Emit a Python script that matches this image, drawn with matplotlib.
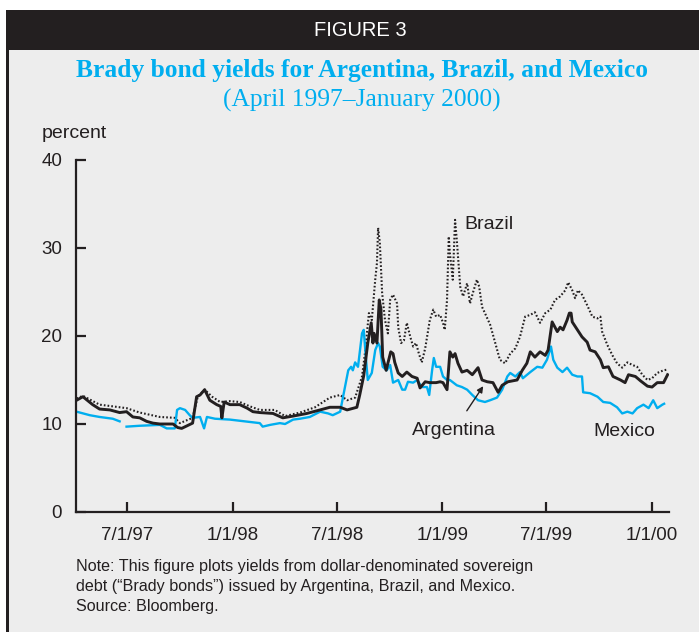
import matplotlib
matplotlib.use('Agg')
import matplotlib.pyplot as plt
from matplotlib.patches import Rectangle
import pandas as pd

# yields (percent)
arg_dates = ['1997-04-04', '1997-04-15', '1997-05-02', '1997-05-14', '1997-06-01', '1997-06-18',
             '1997-06-30', '1997-07-11', '1997-07-23', '1997-08-04', '1997-08-15', '1997-08-27',
             '1997-09-19', '1997-09-27', '1997-10-04', '1997-10-23', '1997-10-30', '1997-11-05',
             '1997-11-13', '1997-11-22', '1997-12-04', '1997-12-11', '1997-12-13', '1997-12-17',
             '1997-12-27', '1998-01-13', '1998-01-26', '1998-02-05', '1998-02-17', '1998-03-12',
             '1998-03-29', '1998-04-16', '1998-05-10', '1998-06-02', '1998-06-19', '1998-07-07',
             '1998-07-19', '1998-08-05', '1998-08-10', '1998-08-17', '1998-08-24', '1998-08-30',
             '1998-09-02', '1998-09-04', '1998-09-09', '1998-09-13', '1998-09-16', '1998-09-19',
             '1998-09-25', '1998-09-28', '1998-10-03', '1998-10-07', '1998-10-10', '1998-10-16',
             '1998-10-23', '1998-10-31', '1998-11-09', '1998-11-18', '1998-11-23', '1998-12-02',
             '1998-12-10', '1998-12-21', '1998-12-28', '1999-01-02', '1999-01-09', '1999-01-14',
             '1999-01-19', '1999-01-23', '1999-01-28', '1999-02-04', '1999-02-13', '1999-02-22',
             '1999-03-04', '1999-03-11', '1999-03-20', '1999-03-30', '1999-04-08', '1999-04-15',
             '1999-04-25', '1999-05-11', '1999-05-20', '1999-05-28', '1999-06-03', '1999-06-11',
             '1999-06-20', '1999-06-29', '1999-07-04', '1999-07-11', '1999-07-20', '1999-07-25',
             '1999-07-30', '1999-08-06', '1999-08-10', '1999-08-13', '1999-08-15', '1999-08-24',
             '1999-09-01', '1999-09-10', '1999-09-15', '1999-09-24', '1999-10-03', '1999-10-08',
             '1999-10-17', '1999-10-25', '1999-11-07', '1999-11-15', '1999-11-21', '1999-12-03',
             '1999-12-12', '1999-12-24', '2000-01-01', '2000-01-10', '2000-01-21', '2000-01-28']
arg_yield = [12.7, 13.1, 12.2, 11.7, 11.6, 11.3,
             11.4, 10.8, 10.7, 10.3, 10.1, 10.0,
             10.0, 9.6, 9.5, 10.1, 13.1, 13.3,
             13.9, 12.7, 12.2, 12.0, 10.7, 12.5,
             12.2, 12.2, 11.8, 11.4, 11.3, 11.2,
             10.7, 10.9, 11.2, 11.6, 11.9, 11.9,
             11.6, 11.9, 13.3, 15.5, 19.2, 21.5,
             19.2, 20.3, 19.2, 24.1, 23.0, 17.6,
             16.1, 16.9, 18.2, 18.0, 17.0, 15.8,
             15.4, 15.9, 15.4, 15.2, 14.1, 14.8,
             14.7, 14.7, 14.8, 14.7, 13.9, 18.2,
             17.6, 18.0, 16.9, 15.9, 16.1, 15.6,
             16.4, 15.0, 14.8, 14.7, 13.6, 14.4,
             14.8, 15.0, 16.1, 16.9, 18.2, 17.6,
             18.2, 17.8, 18.4, 21.6, 20.5, 21.0,
             20.7, 21.8, 22.6, 22.6, 21.6, 20.7,
             19.9, 19.3, 18.4, 18.2, 17.3, 16.4,
             16.5, 15.4, 15.0, 14.7, 15.6, 15.4,
             14.9, 14.3, 14.2, 14.7, 14.7, 15.6]

bra_dates = ['1997-04-04', '1997-04-15', '1997-05-14', '1997-06-30', '1997-07-23', '1997-08-27',
             '1997-09-22', '1997-10-01', '1997-10-23', '1997-11-01', '1997-11-13', '1997-11-26',
             '1997-12-10', '1997-12-27', '1998-01-13', '1998-01-31', '1998-02-17', '1998-03-15',
             '1998-04-02', '1998-04-28', '1998-05-24', '1998-06-19', '1998-07-07', '1998-07-19',
             '1998-08-02', '1998-08-14', '1998-08-19', '1998-08-26', '1998-08-31', '1998-09-06',
             '1998-09-09', '1998-09-11', '1998-09-14', '1998-09-18', '1998-09-23', '1998-09-28',
             '1998-10-02', '1998-10-07', '1998-10-14', '1998-10-16', '1998-10-21', '1998-10-26',
             '1998-10-31', '1998-11-06', '1998-11-11', '1998-11-16', '1998-11-21', '1998-11-26',
             '1998-12-02', '1998-12-10', '1998-12-16', '1998-12-21', '1998-12-28', '1999-01-02',
             '1999-01-05', '1999-01-09', '1999-01-12', '1999-01-14', '1999-01-19', '1999-01-23',
             '1999-01-26', '1999-02-01', '1999-02-06', '1999-02-13', '1999-02-18', '1999-02-23',
             '1999-03-02', '1999-03-06', '1999-03-11', '1999-03-16', '1999-03-25', '1999-04-03',
             '1999-04-11', '1999-04-20', '1999-04-29', '1999-05-08', '1999-05-16', '1999-05-25',
             '1999-06-03', '1999-06-11', '1999-06-20', '1999-06-29', '1999-07-08', '1999-07-16',
             '1999-07-25', '1999-08-03', '1999-08-08', '1999-08-15', '1999-08-20', '1999-08-25',
             '1999-09-01', '1999-09-10', '1999-09-19', '1999-09-28', '1999-10-03', '1999-10-06',
             '1999-10-15', '1999-10-24', '1999-11-01', '1999-11-10', '1999-11-19', '1999-11-28',
             '1999-12-06', '1999-12-15', '1999-12-24', '2000-01-01', '2000-01-10', '2000-01-21',
             '2000-01-29']
bra_yield = [12.9, 13.2, 12.2, 11.8, 11.3, 10.8,
             10.7, 10.1, 10.7, 13.1, 13.9, 13.1,
             12.5, 12.6, 12.5, 12.0, 11.6, 11.6,
             10.9, 11.3, 11.9, 13.0, 13.3, 12.7,
             13.0, 15.4, 18.0, 22.6, 21.8, 26.4,
             28.3, 32.3, 30.6, 24.9, 21.8, 20.3,
             24.1, 24.7, 23.7, 21.0, 19.2, 19.5,
             21.5, 19.9, 18.8, 19.2, 18.0, 17.0,
             18.6, 21.8, 23.0, 22.2, 22.4, 21.5,
             20.7, 24.1, 31.3, 29.4, 26.4, 33.2,
             30.9, 25.6, 24.5, 26.0, 23.7, 24.9,
             26.4, 25.6, 23.3, 22.6, 21.3, 19.2,
             17.3, 16.9, 18.0, 18.6, 19.9, 22.2,
             22.4, 22.7, 21.5, 22.6, 23.0, 24.1,
             24.5, 25.2, 26.1, 25.2, 24.3, 25.2,
             24.7, 23.5, 22.2, 22.0, 22.2, 20.5,
             19.0, 17.8, 16.9, 16.4, 17.0, 16.7,
             16.5, 15.6, 15.0, 15.2, 15.8, 16.1,
             16.2]

nan = float('nan')
mex_dates = ['1997-04-04', '1997-04-27', '1997-05-14', '1997-06-06', '1997-06-18', '1997-06-24',
             '1997-06-30', '1997-07-23', '1997-08-27', '1997-09-08', '1997-09-22', '1997-09-26',
             '1997-10-01', '1997-10-10', '1997-10-18', '1997-10-23', '1997-11-05', '1997-11-12',
             '1997-11-17', '1997-12-01', '1997-12-27', '1998-01-22', '1998-02-17', '1998-02-22',
             '1998-03-07', '1998-03-24', '1998-04-02', '1998-04-16', '1998-04-28', '1998-05-15',
             '1998-06-02', '1998-06-16', '1998-06-24', '1998-07-07', '1998-07-12', '1998-07-21',
             '1998-07-26', '1998-07-29', '1998-08-02', '1998-08-07', '1998-08-14', '1998-08-17',
             '1998-08-21', '1998-08-24', '1998-08-31', '1998-09-06', '1998-09-11', '1998-09-14',
             '1998-09-19', '1998-09-26', '1998-10-02', '1998-10-07', '1998-10-16', '1998-10-23',
             '1998-10-28', '1998-11-02', '1998-11-11', '1998-11-18', '1998-11-26', '1998-12-05',
             '1998-12-09', '1998-12-14', '1998-12-17', '1998-12-21', '1998-12-28', '1999-01-02',
             '1999-01-09', '1999-01-14', '1999-01-26', '1999-02-04', '1999-02-13', '1999-02-22',
             '1999-03-04', '1999-03-16', '1999-03-25', '1999-04-06', '1999-04-15', '1999-04-24',
             '1999-04-29', '1999-05-08', '1999-05-16', '1999-05-21', '1999-06-03', '1999-06-15',
             '1999-06-24', '1999-07-02', '1999-07-09', '1999-07-13', '1999-07-20', '1999-07-29',
             '1999-08-06', '1999-08-15', '1999-08-24', '1999-09-01', '1999-09-03', '1999-09-15',
             '1999-09-28', '1999-10-08', '1999-10-20', '1999-11-01', '1999-11-10', '1999-11-19',
             '1999-11-28', '1999-12-06', '1999-12-17', '1999-12-26', '2000-01-03', '2000-01-10',
             '2000-01-19', '2000-01-22']
mex_yield = [11.4, 11.0, 10.8, 10.6, 10.3, nan,
             9.7, 9.8, 9.9, 9.5, 9.5, 11.6,
             11.8, 11.6, 11.0, 10.7, 10.8, 9.5,
             10.8, 10.6, 10.5, 10.3, 10.1, 9.7,
             9.9, 10.1, 10.0, 10.5, 10.6, 10.8,
             11.4, 11.2, 11.0, 11.4, 13.1, 16.1,
             16.5, 16.1, 17.0, 16.5, 20.3, 20.7,
             17.3, 15.0, 15.8, 18.4, 19.2, 18.8,
             16.5, 16.1, 16.7, 14.7, 15.0, 13.9,
             13.9, 14.8, 14.7, 15.0, 14.2, 14.2,
             13.3, 16.1, 17.5, 16.5, 16.5, 15.4,
             15.0, 15.0, 14.4, 14.2, 13.9, 13.3,
             12.7, 12.5, 12.7, 13.0, 13.9, 15.4,
             15.8, 15.4, 15.9, 15.2, 15.9, 16.5,
             16.4, 17.3, 18.8, 17.3, 16.4, 15.9,
             16.4, 15.6, 15.4, 15.4, 13.6, 13.5,
             13.1, 12.5, 12.4, 11.9, 11.2, 11.4,
             11.2, 11.8, 12.2, 11.8, 12.7, 11.8,
             12.2, 12.3]

tick_dates = ['1997-07-01', '1998-01-01', '1998-07-01', '1999-01-01', '1999-07-01', '2000-01-01']
tick_labels = ['7/1/97', '1/1/98', '7/1/98', '1/1/99', '7/1/99', '1/1/00']

note_lines = ['Note: This figure plots yields from dollar-denominated sovereign',
              'debt (\u201cBrady bonds\u201d) issued by Argentina, Brazil, and Mexico.',
              'Source: Bloomberg.']

ink = '#231f20'
cyan = '#00aeef'
panel = '#ededed'

plt.rcParams['font.family'] = ['Liberation Sans', 'DejaVu Sans']

W, H = 699, 632
fig = plt.figure(figsize=(W / 100, H / 100), dpi=100, facecolor='white')

def fx(px):
    return px / W

def fy(py):
    return 1 - py / H

# grey panel, dark header strip and left border
fig.patches.append(Rectangle((fx(6), 0), 1, fy(50), transform=fig.transFigure,
                             facecolor=panel, edgecolor='none', zorder=-10))
fig.patches.append(Rectangle((fx(6), fy(50)), 1, fy(10) - fy(50), transform=fig.transFigure,
                             facecolor=ink, edgecolor='none', zorder=-10))
fig.patches.append(Rectangle((fx(6), 0), fx(2.5), fy(10), transform=fig.transFigure,
                             facecolor=ink, edgecolor='none', zorder=-9))

fig.text(fx(360), fy(31), 'FIGURE 3', color='white', fontsize=14.5, ha='center', va='center')
fig.text(fx(362), fy(71), 'Brady bond yields for Argentina, Brazil, and Mexico',
         color=cyan, fontsize=18.4, fontweight='bold', family='Liberation Serif',
         ha='center', va='center')
fig.text(fx(362), fy(100), '(April 1997\u2013January 2000)', color=cyan, fontsize=18.4,
         family='Liberation Serif', ha='center', va='center')
fig.text(fx(42), fy(133), 'percent', color=ink, fontsize=14, ha='left', va='center')

ax = fig.add_axes([fx(76), fy(512), fx(669.3) - fx(76), fy(160) - fy(512)])
ax.set_facecolor('none')

ax.plot(pd.to_datetime(bra_dates), bra_yield, color=ink, lw=1.5, ls=(0, (0.8, 1.0)))
ax.plot(pd.to_datetime(mex_dates), mex_yield, color=cyan, lw=1.7)
ax.plot(pd.to_datetime(arg_dates), arg_yield, color=ink, lw=2.1)

ax.set_xlim(pd.Timestamp('1997-04-03'), pd.Timestamp('2000-01-31'))
ax.set_ylim(0, 40)
ax.set_yticks([0, 10, 20, 30, 40])
ax.set_xticks(pd.to_datetime(tick_dates))
ax.set_xticklabels(tick_labels)

for s in ['top', 'right']:
    ax.spines[s].set_visible(False)
for s in ['left', 'bottom']:
    ax.spines[s].set_color(ink)
    ax.spines[s].set_linewidth(1.6)
ax.tick_params(axis='both', direction='in', length=7.5, width=1.6, color=ink,
               labelcolor=ink, labelsize=13.5)
ax.tick_params(axis='x', pad=11)
ax.tick_params(axis='y', pad=10)

ax.text(pd.Timestamp('1999-02-09'), 32.7, 'Brazil', color=ink, fontsize=14, va='center')
ax.text(pd.Timestamp('1999-11-13'), 9.2, 'Mexico', color=ink, fontsize=14,
        ha='center', va='center')
ax.annotate('Argentina', xy=(pd.Timestamp('1999-03-13'), 14.3),
            xytext=(pd.Timestamp('1999-01-21'), 9.3), color=ink, fontsize=14,
            ha='center', va='center',
            arrowprops=dict(arrowstyle='-|>', color=ink, lw=1.0, shrinkA=7, shrinkB=0,
                            mutation_scale=9))

for line, py in zip(note_lines, [566, 587, 607]):
    fig.text(fx(76), fy(py), line, color=ink, fontsize=11.6, ha='left', va='center')

fig.savefig('out.png', dpi=100, facecolor='white')
